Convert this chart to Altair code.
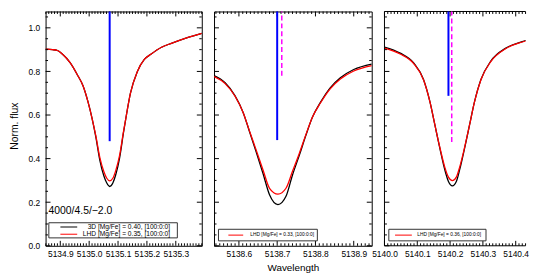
import altair as alt
import pandas as pd
import numpy as np

# ---------------- data ----------------
# Panel 1 (Mg I 5135.07)
p1_wl = [5134.849, 5134.873, 5134.890, 5134.907, 5134.934, 5134.958, 5134.979, 5134.996,
         5135.010, 5135.023, 5135.037, 5135.051, 5135.061, 5135.071, 5135.082, 5135.092,
         5135.105, 5135.119, 5135.129, 5135.143, 5135.167, 5135.191, 5135.215, 5135.249,
         5135.287, 5135.335, 5135.390]
p1_3d = [0.902, 0.900, 0.896, 0.880, 0.840, 0.787, 0.733, 0.660,
         0.585, 0.500, 0.392, 0.320, 0.288, 0.272, 0.288, 0.326,
         0.400, 0.520, 0.600, 0.700, 0.800, 0.855, 0.880, 0.910,
         0.930, 0.953, 0.975]
p1_lhd = [0.902, 0.900, 0.896, 0.880, 0.840, 0.787, 0.733, 0.660,
          0.585, 0.505, 0.405, 0.340, 0.310, 0.298, 0.310, 0.345,
          0.412, 0.525, 0.600, 0.700, 0.800, 0.855, 0.880, 0.910,
          0.930, 0.953, 0.975]

# Panel 2 (Mg I 5138.70)
p2_wl = [5138.535, 5138.564, 5138.590, 5138.611, 5138.628, 5138.645, 5138.663, 5138.680,
         5138.702, 5138.723, 5138.740, 5138.758, 5138.775, 5138.792, 5138.813, 5138.839,
         5138.865, 5138.900, 5138.947]
p2_3d = [0.781, 0.748, 0.688, 0.612, 0.522, 0.431, 0.332, 0.234,
         0.189, 0.227, 0.325, 0.416, 0.507, 0.590, 0.658, 0.726,
         0.771, 0.809, 0.834]
p2_lhd = [0.776, 0.744, 0.686, 0.612, 0.525, 0.440, 0.348, 0.264,
          0.237, 0.264, 0.342, 0.425, 0.510, 0.590, 0.655, 0.721,
          0.765, 0.802, 0.827]

# Panel 3 (Mg I 5140.20)
p3_wl = [5140.000, 5140.048, 5140.089, 5140.119, 5140.139, 5140.154, 5140.169, 5140.184,
         5140.195, 5140.207, 5140.219, 5140.229, 5140.244, 5140.259, 5140.274, 5140.294,
         5140.324, 5140.370, 5140.420, 5140.475]
p3_3d = [0.912, 0.884, 0.839, 0.763, 0.658, 0.552, 0.446, 0.348,
         0.295, 0.275, 0.295, 0.348, 0.446, 0.552, 0.658, 0.763,
         0.847, 0.907, 0.937, 0.960]
p3_lhd = [0.907, 0.880, 0.836, 0.762, 0.658, 0.552, 0.450, 0.360,
          0.315, 0.299, 0.315, 0.360, 0.450, 0.552, 0.658, 0.762,
          0.845, 0.905, 0.935, 0.958]

# vertical markers: (wavelength, lower flux end)
p1_blue = (5135.071, 0.48)
p2_blue = (5138.700, 0.485)
p2_mag = (5138.712, 0.78)
p3_blue = (5140.195, 0.688)
p3_mag = (5140.205, 0.476)

# axes
x_domains = [[5134.849, 5135.390], [5138.535, 5138.947], [5140.000, 5140.430]]
x_ticks = [[5134.9, 5135.0, 5135.1, 5135.2, 5135.3],
           [5138.6, 5138.7, 5138.8, 5138.9],
           [5140.0, 5140.1, 5140.2, 5140.3, 5140.4]]
y_ticks = [0.0, 0.2, 0.4, 0.6, 0.8, 1.0]
y_domain = [0, 1.075]

models = ["3D", "LHD"]
p1_legend = ["3D [Mg/Fe] = 0.40, [100:0:0]", "LHD [Mg/Fe] = 0.35, [100:0:0]"]
p2_legend = ["LHD [Mg/Fe] = 0.33, [100:0:0]"]
p3_legend = ["LHD [Mg/Fe] = 0.36, [100:0:0]"]
model_label = "4000/4.5/\u22122.0"
y_title = "Norm. flux"
x_title = "Wavelength"

# ---------------- chart construction ----------------
H = 237
FONT = "Liberation Sans"
dummy = pd.DataFrame({"d": [0]})


def panel(idx, wl, f3d, flhd, W, blue, mag, legend_items, legend_box, legend_fs,
          show_y, xtitle, open_right=False):
    xdom = x_domains[idx]
    xs = alt.Scale(domain=xdom, nice=False, zero=False)
    ys = alt.Scale(domain=y_domain, nice=False, zero=False)
    axis_kw = dict(values=x_ticks[idx], format=".1f", ticks=False, domain=False, grid=False,
                   labelPadding=4, labelFontSize=8.5, labelColor="black",
                   labelOverlap=False, labelFlush=False)
    if xtitle:
        xaxis = alt.Axis(title=xtitle, titleFontSize=10, titleFontWeight="normal",
                         titlePadding=4, titleColor="black", **axis_kw)
    else:
        xaxis = alt.Axis(title=None, **axis_kw)
    if show_y:
        yaxis = alt.Axis(values=y_ticks, format=".1f", ticks=False, domain=False, grid=False,
                         labelPadding=6, labelFontSize=8.5, labelColor="black", title=None)
    else:
        yaxis = None

    def X(f):
        return alt.X(f"{f}:Q", scale=xs, axis=xaxis)

    def Y(f):
        return alt.Y(f"{f}:Q", scale=ys, axis=yaxis)

    df = pd.DataFrame({
        "wl": list(wl) + list(wl),
        "flux": list(f3d) + list(flhd),
        "model": [models[0]] * len(wl) + [models[1]] * len(wl),
    })
    lines = alt.Chart(df).mark_line(strokeWidth=1.3, interpolate="monotone", clip=True).encode(
        x=X("wl"), y=Y("flux"),
        color=alt.Color("model:N", scale=alt.Scale(domain=models, range=["black", "red"]), legend=None),
    )
    layers = [lines]

    # frame for the open-right panel
    if open_right:
        layers.append(alt.Chart(dummy).mark_rule(color="black", strokeWidth=1).encode(
            x=alt.value(0), y=alt.value(0), y2=alt.value(H)))
        layers.append(alt.Chart(dummy).mark_rule(color="black", strokeWidth=1).encode(
            x=alt.value(0), x2=alt.value(W), y=alt.value(0)))
        layers.append(alt.Chart(dummy).mark_rule(color="black", strokeWidth=1).encode(
            x=alt.value(0), x2=alt.value(W), y=alt.value(H)))

    # tick marks (inward)
    major_x = [v for v in x_ticks[idx]]
    all_minor = np.round(np.arange(np.ceil(xdom[0] * 100) / 100, xdom[1] + 1e-9, 0.01), 2)
    minor_x = [float(v) for v in all_minor if min(abs(v - m) for m in major_x) > 1e-6]
    major_y = [0.0, 0.2, 0.4, 0.6, 0.8, 1.0]
    minor_y = [float(v) for v in np.round(np.arange(0.05, 1.075, 0.05), 2)
               if min(abs(v - m) for m in major_y) > 1e-6]
    for vals, ln in [(major_x, 5), (minor_x, 2.5)]:
        d = pd.DataFrame({"wl": vals})
        layers.append(alt.Chart(d).mark_rule(color="black", strokeWidth=1).encode(
            x=X("wl"), y=alt.value(H), y2=alt.value(H - ln)))
        layers.append(alt.Chart(d).mark_rule(color="black", strokeWidth=1).encode(
            x=X("wl"), y=alt.value(0), y2=alt.value(ln)))
    for vals, ln in [(major_y, 5), (minor_y, 2.5)]:
        d = pd.DataFrame({"flux": vals})
        layers.append(alt.Chart(d).mark_rule(color="black", strokeWidth=1).encode(
            y=Y("flux"), x=alt.value(0), x2=alt.value(ln)))
        if not open_right:
            layers.append(alt.Chart(d).mark_rule(color="black", strokeWidth=1).encode(
                y=Y("flux"), x=alt.value(W), x2=alt.value(W - ln)))

    # vertical line markers
    bd = pd.DataFrame({"wl": [blue[0]], "flux": [blue[1]]})
    layers.append(alt.Chart(bd).mark_rule(color="#0000ff", strokeWidth=2).encode(
        x=X("wl"), y=Y("flux"), y2=alt.value(0)))
    if mag is not None:
        md = pd.DataFrame({"wl": [mag[0]], "flux": [mag[1]]})
        layers.append(alt.Chart(md).mark_rule(color="#ff00ff", strokeWidth=1.5, strokeDash=[5, 3]).encode(
            x=X("wl"), y=Y("flux"), y2=alt.value(0)))

    # legend box
    bx1, bx2, by1, by2, lx1, lx2, tx, rows = legend_box
    layers.append(alt.Chart(dummy).mark_rect(fill="white", stroke="#333333", strokeWidth=1).encode(
        x=alt.value(bx1), x2=alt.value(bx2), y=alt.value(by1), y2=alt.value(by2)))
    colors = ["black", "red"] if len(legend_items) == 2 else ["red"]
    for text, col, ry in zip(legend_items, colors, rows):
        layers.append(alt.Chart(dummy).mark_rule(color=col, strokeWidth=1).encode(
            x=alt.value(lx1), x2=alt.value(lx2), y=alt.value(ry)))
        layers.append(alt.Chart(dummy).mark_text(align="right", baseline="middle", fontSize=legend_fs,
                                                 color="black", font=FONT).encode(
            x=alt.value(tx), y=alt.value(ry), text=alt.value(text)))

    if show_y:
        layers.append(alt.Chart(dummy).mark_text(align="left", baseline="middle", fontSize=10.5,
                                                 color="black", font=FONT).encode(
            x=alt.value(3), y=alt.value(202), text=alt.value(model_label)))
        layers.append(alt.Chart(dummy).mark_text(align="center", baseline="middle", fontSize=10.5,
                                                 angle=270, color="black", font=FONT).encode(
            x=alt.value(-31), y=alt.value(116), text=alt.value(y_title)))
        layers.append(alt.Chart(dummy).mark_rule(opacity=0).encode(
            x=alt.value(-37), y=alt.value(0), y2=alt.value(10)))

    ch = alt.layer(*layers).properties(width=W, height=H)
    if open_right:
        ch = ch.properties(view=alt.ViewBackground(stroke="transparent"))
    return ch


c1 = panel(0, p1_wl, p1_3d, p1_lhd, 158, p1_blue, None, p1_legend,
           (3.3, 133.3, 213.7, 229, 15, 32, 126, [218, 225.3]), 6.7, True, None)
c2 = panel(1, p2_wl, p2_3d, p2_lhd, 159.5, p2_blue, p2_mag, p2_legend,
           (4.5, 104.5, 220.3, 232, 14.5, 29.5, 101.2, [226.2]), 4.9, False, x_title)
c3 = panel(2, p3_wl, p3_3d, p3_lhd, 142.7, p3_blue, p3_mag, p3_legend,
           (4.4, 102.7, 220.3, 232, 10.7, 27.7, 97.7, [226.2]), 4.9, False, None, open_right=True)

chart = alt.hconcat(c1, c2, c3, spacing=12.4, bounds="flush").properties(
    padding=0, background="white"
).configure(font=FONT).configure_view(stroke="black", strokeWidth=1)

chart.save("out.html", embed_options={"renderer": "svg", "actions": False})
